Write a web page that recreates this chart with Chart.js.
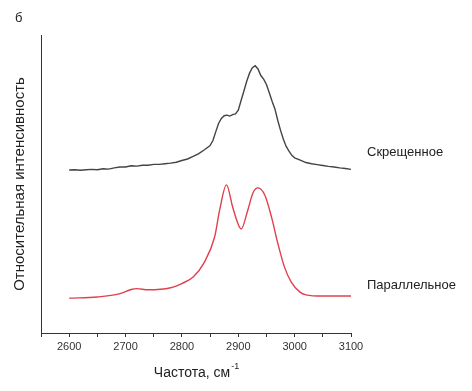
<!DOCTYPE html>
<html>
<head>
<meta charset="utf-8">
<script src="https://cdn.jsdelivr.net/npm/chart.js@4"></script>
<style>
  html, body { margin: 0; padding: 0; background: #fff; }
  #wrap { width: 472px; height: 391px; }
</style>
</head>
<body>
<div id="wrap"><canvas id="chart" width="472" height="391"></canvas></div>
<script>
// Data (intensity in arbitrary units)
const crossedFreq = [2600, 2610, 2620, 2630, 2640, 2650, 2660, 2670, 2680, 2690, 2700, 2710, 2720, 2730, 2740, 2750, 2760, 2770, 2780, 2790,
    2800, 2810, 2820, 2830, 2840, 2850, 2855, 2860, 2865, 2870, 2875, 2880, 2885, 2890, 2895, 2900, 2905, 2910, 2915, 2920,
    2925, 2930, 2935, 2940, 2945, 2950, 2955, 2960, 2965, 2970, 2975, 2980, 2985, 2990, 2995, 3000, 3010, 3020, 3030, 3040,
    3050, 3060, 3070, 3080, 3090, 3100];
const crossedValues = [54.7, 54.8, 54.6, 54.8, 54.9, 54.8, 55.1, 55.0, 55.4, 55.7, 55.7, 56.1, 56.0, 56.3, 56.3, 56.6, 56.6, 56.8, 57.0, 57.3,
    57.9, 58.4, 59.3, 60.2, 61.5, 62.9, 64.6, 67.5, 70.3, 72.0, 72.9, 73.1, 72.8, 73.3, 73.5, 74.8, 78.0, 81.2, 84.5, 87.2,
    89.0, 89.7, 88.6, 86.4, 85.2, 83.4, 80.6, 77.8, 75.2, 71.4, 68.0, 65.0, 62.6, 61.0, 59.6, 58.8, 58.0, 57.2, 56.8, 56.5,
    56.2, 55.9, 55.7, 55.4, 55.2, 54.9];

const parallelFreq = [2600, 2650, 2690, 2710, 2720, 2740, 2780, 2800, 2820, 2840, 2858, 2867, 2879, 2890, 2899, 2905, 2917, 2926, 2935, 2947,
    2959, 2970, 2982, 2994, 3009, 3020, 3050, 3100];
const parallelValues = [11.7, 12.1, 13.2, 14.6, 14.9, 14.5, 15.2, 16.6, 18.8, 23.8, 32.2, 41.3, 49.7, 42.3, 36.9, 34.9, 41.3, 47.0, 48.7, 46.3,
    38.9, 30.2, 22.1, 17.1, 13.8, 12.8, 12.4, 12.4];

const xTicks = [2600, 2700, 2800, 2900, 3000, 3100];
const panelLabel = "б";
const xTitle = "Частота, см";
const xTitleSup = "-1";
const yTitle = "Относительная интенсивность";
const crossedLabel = "Скрещенное";
const parallelLabel = "Параллельное";

const toPoints = (xs, ys) => xs.map((x, i) => ({x: x, y: ys[i]}));

// Texts drawn around the plot
const textPlugin = {
    id: "texts",
    afterDraw(chart) {
        const ctx = chart.ctx;
        const area = chart.chartArea;
        const ys = chart.scales.y;
        ctx.save();
        ctx.fillStyle = "#222";
        ctx.textBaseline = "middle";

        ctx.font = "13px 'Liberation Sans', Arial, sans-serif";
        ctx.textAlign = "left";
        ctx.fillText(panelLabel, 15, 18);

        // curve labels
        ctx.fillText(crossedLabel, area.right + 16, ys.getPixelForValue(crossedValues[crossedValues.length - 1]) - 17);
        ctx.fillText(parallelLabel, area.right + 16, ys.getPixelForValue(parallelValues[parallelValues.length - 1]) - 11);

        // x title with superscript
        ctx.font = "14px 'Liberation Sans', Arial, sans-serif";
        const w1 = ctx.measureText(xTitle).width;
        ctx.font = "9px 'Liberation Sans', Arial, sans-serif";
        const w2 = ctx.measureText(xTitleSup).width;
        const cx = 196;
        let x0 = cx - (w1 + w2) / 2;
        ctx.font = "14px 'Liberation Sans', Arial, sans-serif";
        ctx.fillText(xTitle, x0, 373);
        ctx.font = "9px 'Liberation Sans', Arial, sans-serif";
        ctx.fillText(xTitleSup, x0 + w1 + 1, 367);

        // y title
        ctx.translate(20, 184);
        ctx.rotate(-Math.PI / 2);
        ctx.textAlign = "center";
        ctx.font = "15px 'Liberation Sans', Arial, sans-serif";
        ctx.fillText(yTitle, 0, 0);
        ctx.restore();
    }
};

new Chart(document.querySelector("#chart"), {
    type: "line",
    data: {
        datasets: [
            {
                label: crossedLabel,
                data: toPoints(crossedFreq, crossedValues),
                borderColor: "#444",
                borderWidth: 1.4,
                pointRadius: 0,
                tension: 0
            },
            {
                label: parallelLabel,
                data: toPoints(parallelFreq, parallelValues),
                borderColor: "#e0404e",
                borderWidth: 1.4,
                pointRadius: 0,
                cubicInterpolationMode: "monotone"
            }
        ]
    },
    options: {
        responsive: false,
        animation: false,
        layout: {padding: {left: 0, top: 35, right: 121, bottom: 0}},
        plugins: {legend: {display: false}, tooltip: {enabled: false}},
        scales: {
            x: {
                type: "linear",
                min: 2550,
                max: 3100,
                afterFit: (scale) => { scale.height = 58; },
                afterBuildTicks: (scale) => {
                    let t = [];
                    for (let v = 2550; v <= 3100; v += 50) t.push({value: v});
                    scale.ticks = t;
                },
                ticks: {
                    autoSkip: false,
                    maxRotation: 0,
                    padding: 3,
                    color: "#333",
                    font: {family: "'Liberation Sans', Arial, sans-serif", size: 11},
                    callback: (v) => xTicks.includes(v) ? String(v) : ""
                },
                grid: {display: true, drawOnChartArea: false, tickLength: 4, color: "#333"},
                border: {display: true, color: "#333", width: 1}
            },
            y: {
                min: 0,
                max: 100,
                afterFit: (scale) => { scale.width = 41; },
                ticks: {display: false},
                grid: {display: false},
                border: {display: true, color: "#333", width: 1}
            }
        }
    },
    plugins: [textPlugin]
});
</script>
</body>
</html>
